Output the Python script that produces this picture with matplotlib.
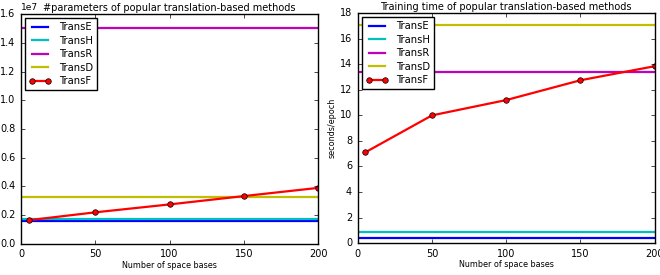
import numpy as np
import matplotlib
matplotlib.use("Agg")
import matplotlib.pyplot as plt

plt.style.use('classic')

bases = [5, 50, 100, 150, 200]
methods = ["TransE", "TransH", "TransR", "TransD"]
colors = ['b', 'c', 'm', 'y']

# number of parameters
params_const = [1.63e6, 1.75e6, 1.505e7, 3.25e6]
params_transf = [1.65e6, 2.2e6, 2.75e6, 3.33e6, 3.9e6]

# training time (seconds/epoch)
time_const = [0.4, 0.85, 13.4, 17.05]
time_transf = [7.1, 10.0, 11.2, 12.75, 13.85]

fig = plt.figure(figsize=(6.6, 2.75), dpi=100, facecolor='white')
ax1 = fig.add_axes([0.032, 0.113, 0.45, 0.836])
ax2 = fig.add_axes([0.542, 0.116, 0.45, 0.836])

def draw(ax, const, transf, ylim, title):
    for name, c, v in zip(methods, colors, const):
        ax.axhline(v, color=c, lw=1.6, label=name)
    ax.plot(bases, transf, 'r-o', lw=1.6, markersize=4, markeredgecolor='k',
            label="TransF")
    ax.set_xlim(0, 200)
    ax.set_ylim(*ylim)
    ax.set_title(title, fontsize=7, pad=2)
    ax.set_xlabel("Number of space bases", fontsize=5.8, labelpad=1)
    ax.tick_params(labelsize=7, length=3)
    ax.legend(loc='upper left', fontsize=7.2, handlelength=2.2,
              borderaxespad=0.4, labelspacing=0.35, numpoints=2)

draw(ax1, params_const, params_transf, (0, 1.6e7),
     "#parameters of popular translation-based methods")
ax1.yaxis.get_offset_text().set_fontsize(6.5)
draw(ax2, time_const, time_transf, (0, 18),
     "Training time of popular translation-based methods")
ax2.set_ylabel("seconds/epoch", fontsize=5.8, labelpad=2)

fig.savefig("out.png", dpi=100, facecolor='white')
